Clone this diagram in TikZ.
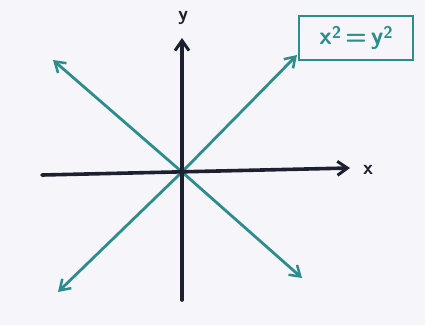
\documentclass[tikz,border=0pt]{standalone}
\usepackage{tikz}
\usetikzlibrary{arrows.meta,positioning}
\definecolor{penteal}{RGB}{45,140,140}
\definecolor{penink}{RGB}{28,32,48}
\definecolor{paper}{RGB}{246,245,249}
\newcommand{\sqr}{\raisebox{0.55ex}{\fontsize{17}{17}\selectfont 2}}

\begin{document}
\begin{tikzpicture}[
    x=1pt, y=-1pt,
    axis/.style={draw=penink, line width=3.6pt, line cap=round, -{Straight Barb[length=10pt, width=14pt, line width=3pt]}},
    branch/.style={draw=penteal, line width=2.8pt, line cap=round, -{Straight Barb[length=10pt, width=13pt, line width=2.5pt]}},
    lbl/.style={text=penink, font=\sffamily\bfseries\fontsize{20}{22}\selectfont},
    eqbox/.style={rectangle, draw=penteal, line width=2.6pt, text=penteal, minimum width=114pt, minimum height=44pt, inner sep=2pt, font=\sffamily\bfseries\fontsize{25}{27}\selectfont}
]
\fill[paper] (0,0) rectangle (425,325);
\useasboundingbox (0,0) rectangle (425,325);

% axes
\coordinate (xl) at (42,175);
\coordinate (xr) at (350,168);
\coordinate (yb) at (182,300);
\coordinate (yt) at (182,38);
\coordinate (o) at (182,172);

% the two lines y = x and y = -x
\coordinate (ur) at (297,55);
\coordinate (ll) at (58,292);
\coordinate (ul) at (53,60);
\coordinate (lr) at (302,278);

\draw[branch] (o) -- (ur);
\draw[branch] (o) -- (ll);
\draw[branch] (o) -- (ul);
\draw[branch] (o) -- (lr);

\draw[axis] (xl) -- (xr);
\draw[axis] (yb) -- (yt);

\node[lbl] (xlab) at (368,170) {x};
\node[lbl] (ylab) at (183,18) {y};

\node[eqbox] (eq) at (356,38) {x\sqr\,=\,y\sqr};
\end{tikzpicture}
\end{document}
